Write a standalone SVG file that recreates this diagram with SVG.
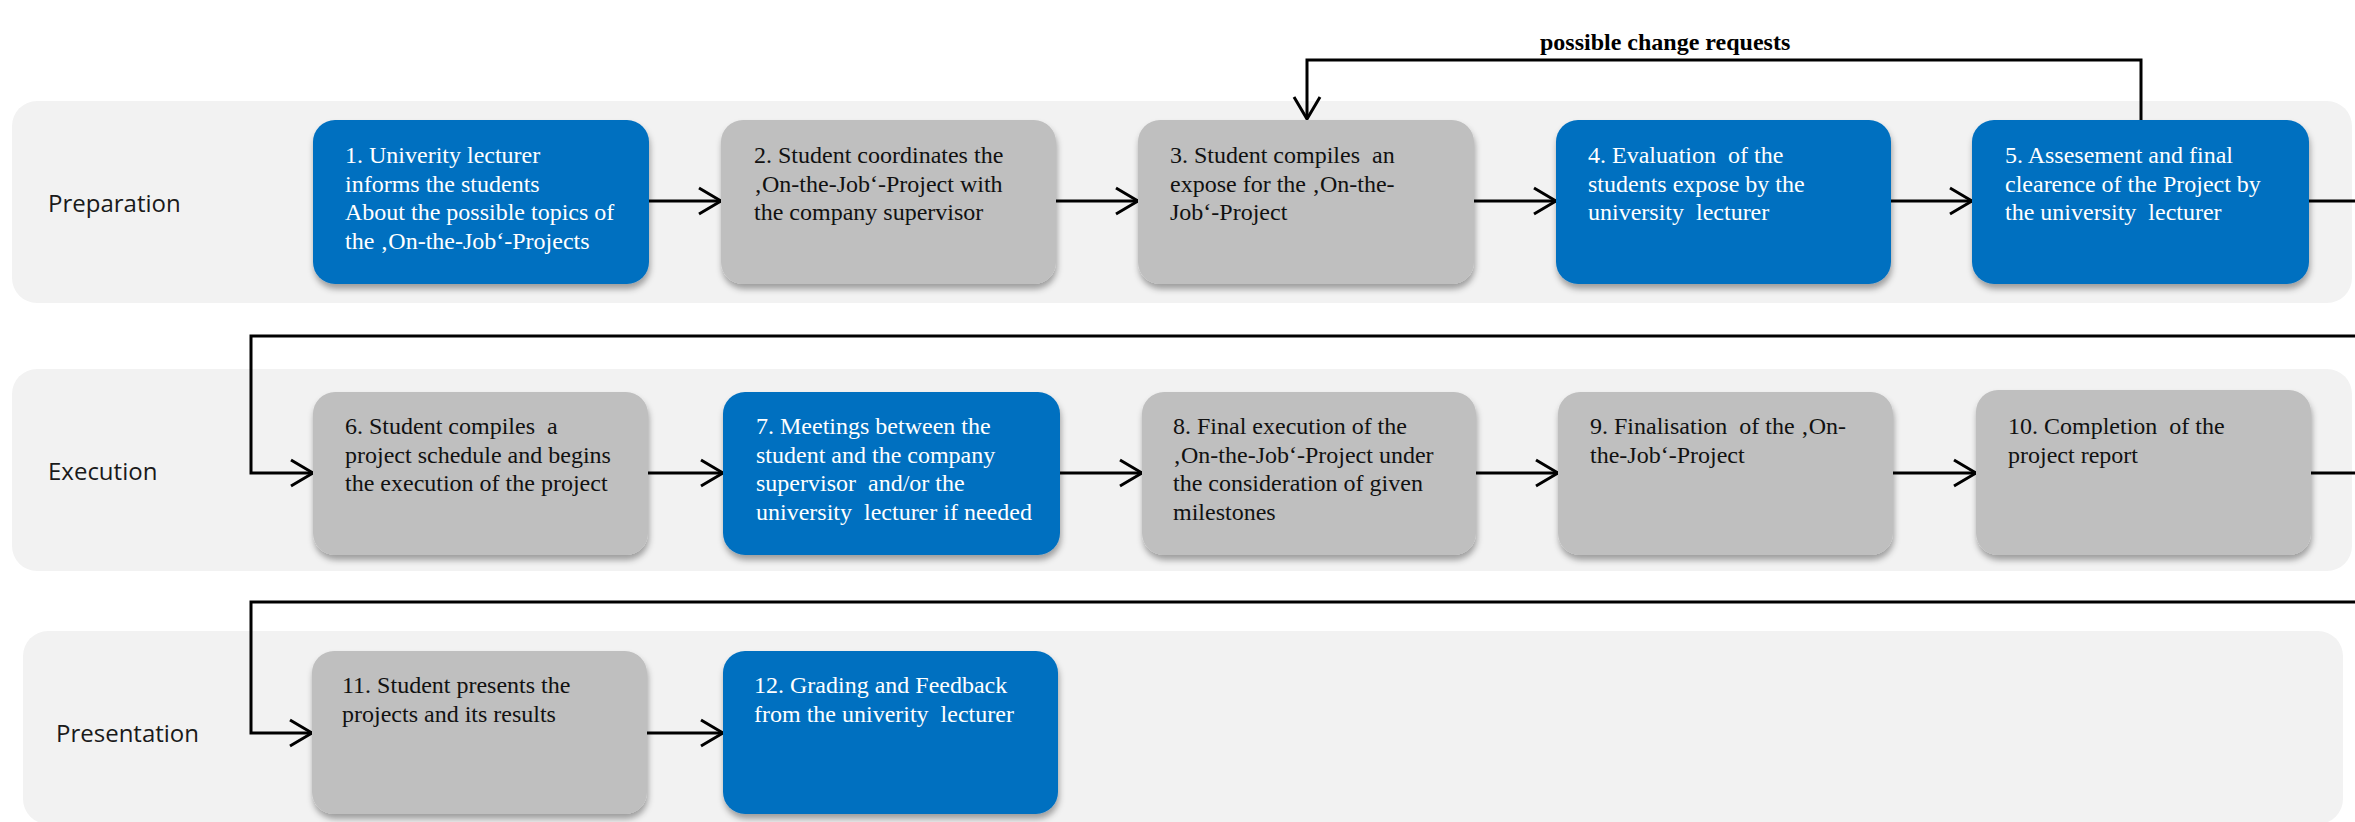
<svg xmlns="http://www.w3.org/2000/svg" width="2355" height="822" viewBox="0 0 2355 822">
  <style>
    .lane { fill: #F2F2F2; }
    .lane-label { font-family: "Open Sans", "Noto Sans", sans-serif; font-size: 24px; fill: #1a1a1a; }
    .blue { fill: #0070C0; filter: url(#shadow); }
    .gray { fill: #BFBFBF; filter: url(#shadow); }
    .t { font-family: "Liberation Serif", "Times New Roman", serif; font-size: 24px; }
    .tw { fill: #FFFFFF; }
    .tb { fill: #111111; }
    .conn { fill: none; stroke: #000; stroke-width: 3; }
    .note { font-family: "Liberation Serif", "Times New Roman", serif; font-size: 24px; font-weight: bold; fill: #000; }
  </style>
  <defs>
    <filter id="shadow" x="-10%" y="-10%" width="120%" height="130%">
      <feDropShadow dx="1" dy="5" stdDeviation="3" flood-color="#000" flood-opacity="0.35"/>
    </filter>
    <marker id="arrow" viewBox="0 0 26 30" refX="24" refY="15" markerWidth="26" markerHeight="30" markerUnits="userSpaceOnUse" orient="auto">
      <path d="M2,2 L24,15 L2,28" fill="none" stroke="#000" stroke-width="3"/>
    </marker>
  </defs>

  <!-- swimlanes -->
  <g id="lane-preparation">
    <rect class="lane" x="12" y="101" width="2340" height="202" rx="25"/>
    <text class="lane-label" x="48" y="212">Preparation</text>
  </g>
  <g id="lane-execution">
    <rect class="lane" x="12" y="369" width="2340" height="202" rx="25"/>
    <text class="lane-label" x="48" y="480">Execution</text>
  </g>
  <g id="lane-presentation">
    <rect class="lane" x="23" y="631" width="2320" height="193" rx="25"/>
    <text class="lane-label" x="56" y="742">Presentation</text>
  </g>

  <!-- connectors -->
  <g id="connectors">
    <path class="conn" d="M649,201 H721" marker-end="url(#arrow)"/>
    <path class="conn" d="M1056,201 H1138" marker-end="url(#arrow)"/>
    <path class="conn" d="M1474,201 H1556" marker-end="url(#arrow)"/>
    <path class="conn" d="M1891,201 H1972" marker-end="url(#arrow)"/>
    <path class="conn" d="M2309,201 H2355"/>
    <path class="conn" d="M2141,120 V60 H1307 V119" marker-end="url(#arrow)"/>
    <text class="note" x="1540" y="50">possible change requests</text>

    <path class="conn" d="M2355,336 H251 V473 H313" marker-end="url(#arrow)"/>
    <path class="conn" d="M648,473 H723" marker-end="url(#arrow)"/>
    <path class="conn" d="M1060,473 H1142" marker-end="url(#arrow)"/>
    <path class="conn" d="M1476,473 H1558" marker-end="url(#arrow)"/>
    <path class="conn" d="M1893,473 H1976" marker-end="url(#arrow)"/>
    <path class="conn" d="M2311,473 H2355"/>

    <path class="conn" d="M2355,602 H251 V733 H312" marker-end="url(#arrow)"/>
    <path class="conn" d="M647,733 H723" marker-end="url(#arrow)"/>
  </g>

  <!-- preparation steps -->
  <g id="step1">
    <rect class="blue" x="313" y="120" width="336" height="164" rx="22"/>
    <text class="t tw" xml:space="preserve"><tspan x="345" y="163">1. Univerity lecturer</tspan><tspan x="345" y="192">informs the students</tspan><tspan x="345" y="220">About the possible topics of</tspan><tspan x="345" y="249">the ‚On-the-Job‘-Projects</tspan></text>
  </g>
  <g id="step2">
    <rect class="gray" x="721" y="120" width="335" height="164" rx="22"/>
    <text class="t tb" xml:space="preserve"><tspan x="754" y="163">2. Student coordinates the</tspan><tspan x="754" y="192">‚On-the-Job‘-Project with</tspan><tspan x="754" y="220">the company supervisor</tspan></text>
  </g>
  <g id="step3">
    <rect class="gray" x="1138" y="120" width="336" height="164" rx="22"/>
    <text class="t tb" xml:space="preserve"><tspan x="1170" y="163">3. Student compiles  an</tspan><tspan x="1170" y="192">expose for the ‚On-the-</tspan><tspan x="1170" y="220">Job‘-Project</tspan></text>
  </g>
  <g id="step4">
    <rect class="blue" x="1556" y="120" width="335" height="164" rx="22"/>
    <text class="t tw" xml:space="preserve"><tspan x="1588" y="163">4. Evaluation  of the</tspan><tspan x="1588" y="192">students expose by the</tspan><tspan x="1588" y="220">university  lecturer</tspan></text>
  </g>
  <g id="step5">
    <rect class="blue" x="1972" y="120" width="337" height="164" rx="22"/>
    <text class="t tw" xml:space="preserve"><tspan x="2005" y="163">5. Assesement and final</tspan><tspan x="2005" y="192">clearence of the Project by</tspan><tspan x="2005" y="220">the university  lecturer</tspan></text>
  </g>

  <!-- execution steps -->
  <g id="step6">
    <rect class="gray" x="313" y="392" width="335" height="163" rx="22"/>
    <text class="t tb" xml:space="preserve"><tspan x="345" y="434">6. Student compiles  a</tspan><tspan x="345" y="463">project schedule and begins</tspan><tspan x="345" y="491">the execution of the project</tspan></text>
  </g>
  <g id="step7">
    <rect class="blue" x="723" y="392" width="337" height="163" rx="22"/>
    <text class="t tw" xml:space="preserve"><tspan x="756" y="434">7. Meetings between the</tspan><tspan x="756" y="463">student and the company</tspan><tspan x="756" y="491">supervisor  and/or the</tspan><tspan x="756" y="520">university  lecturer if needed</tspan></text>
  </g>
  <g id="step8">
    <rect class="gray" x="1142" y="392" width="334" height="163" rx="22"/>
    <text class="t tb" xml:space="preserve"><tspan x="1173" y="434">8. Final execution of the</tspan><tspan x="1173" y="463">‚On-the-Job‘-Project under</tspan><tspan x="1173" y="491">the consideration of given</tspan><tspan x="1173" y="520">milestones</tspan></text>
  </g>
  <g id="step9">
    <rect class="gray" x="1558" y="392" width="335" height="163" rx="22"/>
    <text class="t tb" xml:space="preserve"><tspan x="1590" y="434">9. Finalisation  of the ‚On-</tspan><tspan x="1590" y="463">the-Job‘-Project</tspan></text>
  </g>
  <g id="step10">
    <rect class="gray" x="1976" y="390" width="335" height="165" rx="22"/>
    <text class="t tb" xml:space="preserve"><tspan x="2008" y="434">10. Completion  of the</tspan><tspan x="2008" y="463">project report</tspan></text>
  </g>

  <!-- presentation steps -->
  <g id="step11">
    <rect class="gray" x="312" y="651" width="335" height="163" rx="22"/>
    <text class="t tb" xml:space="preserve"><tspan x="342" y="693">11. Student presents the</tspan><tspan x="342" y="722">projects and its results</tspan></text>
  </g>
  <g id="step12">
    <rect class="blue" x="723" y="651" width="335" height="163" rx="22"/>
    <text class="t tw" xml:space="preserve"><tspan x="754" y="693">12. Grading and Feedback</tspan><tspan x="754" y="722">from the univerity  lecturer</tspan></text>
  </g>
</svg>
